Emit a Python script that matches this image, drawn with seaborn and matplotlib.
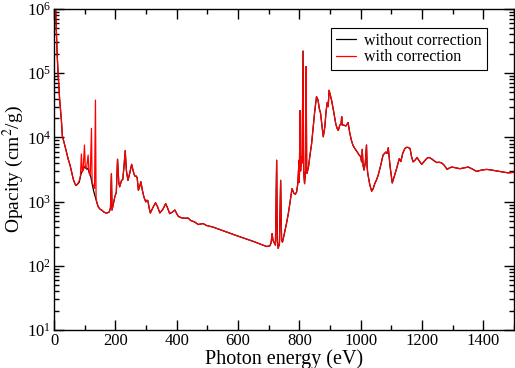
import numpy as np
import pandas as pd
import matplotlib
matplotlib.use("Agg")
import matplotlib.pyplot as plt
import seaborn as sns
from matplotlib.ticker import MultipleLocator, LogLocator

# %%
# photon energy (eV) and opacity (cm^2/g), with correction (red)
energia = [3, 5, 6.5, 8, 10, 13, 18, 24, 27, 35, 46, 52, 57, 63, 68, 71, 76, 82,
           86, 89, 92, 95, 99, 102, 106, 111, 114, 118, 122, 124, 128, 132, 135, 137, 140, 144,
           150, 155, 162, 169, 175, 180, 184, 187, 189, 193, 198, 203, 207, 211, 214, 220, 224,
           228, 232, 236, 241, 247, 253, 258, 263, 268, 271, 275, 279, 283, 288, 293, 299, 303,
           306, 310, 314, 322, 331, 338, 345, 355, 364, 370, 377, 385, 394, 400, 405, 415, 426,
           437, 445, 459, 470, 486, 497, 519, 560, 600, 650, 693, 704, 708, 711, 714, 717, 722,
           726, 728, 731, 735, 739, 742, 745, 750, 758, 764, 769, 776, 782, 787, 791, 795, 799,
           800, 802, 804, 806, 809, 812, 814, 817, 820, 822, 824, 825, 830, 834, 840, 845, 850,
           856, 861, 865, 869, 874, 878, 883, 887, 891, 894, 897, 901, 905, 912, 919, 924, 927,
           932, 936, 938, 940, 945, 952, 959, 964, 970, 975, 981, 988, 995, 1000, 1003, 1005,
           1008, 1011, 1015, 1019, 1021, 1023, 1030, 1036, 1041, 1046, 1052, 1057, 1065, 1073,
           1082, 1086, 1090, 1096, 1103, 1110, 1117, 1122, 1126, 1131, 1137, 1144, 1150, 1155,
           1161, 1166, 1171, 1177, 1184, 1191, 1199, 1205, 1212, 1218, 1224, 1232, 1240, 1248,
           1256, 1264, 1272, 1282, 1290, 1297, 1310, 1324, 1337, 1351, 1365, 1378, 1395, 1411,
           1427, 1443, 1462, 1481, 1500]
com_correcao = [2e6, 1e6, 6e5, 3.5e5, 2e5, 1e5, 4e4, 1.8e4, 1.05e4, 7500, 4600, 3700, 2900, 2200, 1900, 1780, 1850, 2100,
                2500, 5500, 2900, 3100, 7600, 3300, 3300, 5300, 2800, 2600, 13800, 2000, 1800, 1600, 38000, 1100, 950, 830,
                760, 740, 690, 665, 670, 690, 800, 2700, 740, 900, 1180, 1400, 4560, 2000, 1700, 2140, 2200,
                3500, 6200, 3000, 2140, 2800, 3800, 3000, 2500, 2500, 2350, 1500, 1700, 2040, 1500, 1180, 990, 1050,
                1030, 800, 665, 800, 960, 820, 665, 760, 930, 800, 650, 680, 740, 650, 590, 560, 550,
                555, 510, 480, 440, 455, 425, 400, 340, 290, 240, 200, 205, 230, 318, 250, 234, 210,
                4400, 250, 187, 220, 2140, 250, 234, 300, 455, 650, 930, 1590, 1350, 1300, 1410, 1900, 4400,
                2000, 26000, 3000, 5000, 4000, 220000, 3000, 1900, 3000, 126000, 3000, 2760, 3500, 5000, 8000, 14400, 25000,
                43000, 38000, 28000, 24000, 15000, 10200, 14400, 25000, 35000, 30000, 54000, 45000, 38000, 25000, 16000, 13500, 12800,
                15500, 16000, 21000, 15500, 15500, 15000, 17000, 12000, 8900, 7500, 6700, 6000, 5300, 5000, 4150, 6500,
                3600, 3100, 4000, 7600, 3500, 2760, 1800, 1450, 1600, 1900, 2200, 2570, 3600, 5300,
                5900, 5600, 6900, 3500, 1950, 2500, 3250, 4000, 4650, 4200, 5600, 6700, 7000, 6950,
                6700, 5000, 4150, 4400, 4850, 4300, 3800, 4100, 4500, 4800, 4850, 4600, 4300, 4050,
                4100, 4000, 3700, 3170, 3350, 3450, 3350, 3250, 3350, 3450, 3200, 2950, 3100, 3170,
                3100, 3000, 2900, 2800, 2850]

# without correction (black) differs only below ~145 eV
energia_sem = [3, 5, 6.5, 8, 10, 13, 18, 24, 27, 35, 46, 52, 57, 63, 68, 71, 76, 82,
               88, 95, 100, 106, 110, 115, 120, 125, 130, 135, 140, 144]
sem_correcao_baixo = [2e6, 1e6, 6e5, 3.5e5, 2e5, 1e5, 4e4, 1.8e4, 1.05e4, 7500, 4600, 3700, 2900, 2200, 1900, 1780, 1850, 2000,
                      2700, 3200, 3500, 3200, 3300, 2800, 2400, 1800, 1400, 1150, 950, 830]

# %%
df_com = pd.DataFrame({"Energia": energia, "Opacidade": com_correcao})
df_sem = pd.concat([
    pd.DataFrame({"Energia": energia_sem, "Opacidade": sem_correcao_baixo}),
    df_com[df_com["Energia"] > 144],
]).reset_index(drop=True)

# %%
sns.set_style("ticks")
plt.rcParams["font.family"] = ["Liberation Serif", "DejaVu Serif"]
plt.rcParams["mathtext.fontset"] = "stix"
for k in ["text.color", "axes.labelcolor", "xtick.color", "ytick.color", "axes.edgecolor"]:
    plt.rcParams[k] = "black"

fig = plt.figure(figsize=(5.15, 3.68), dpi=100)
ax = fig.add_axes([0.105, 0.103, 0.893, 0.873])

sns.lineplot(data=df_sem, x="Energia", y="Opacidade", color="black", lw=0.9,
             estimator=None, sort=False, label="without correction", ax=ax)
sns.lineplot(data=df_com, x="Energia", y="Opacidade", color="red", lw=0.9,
             estimator=None, sort=False, label="with correction", ax=ax)

ax.set_yscale("log")
ax.set_xlim(0, 1500)
ax.set_ylim(10, 1e6)
ax.xaxis.set_major_locator(MultipleLocator(200))
ax.xaxis.set_minor_locator(MultipleLocator(100))
ax.yaxis.set_major_locator(LogLocator(base=10, numticks=10))
ax.yaxis.set_minor_locator(LogLocator(base=10, subs=np.arange(2, 10), numticks=10))
ax.tick_params(which="both", direction="in", top=True, right=True, labelsize=12, width=1)
ax.tick_params(which="major", length=7, pad=2)
ax.tick_params(which="minor", length=3.5)
for s in ax.spines.values():
    s.set_linewidth(1)

ax.set_xlabel("Photon energy (eV)", fontsize=14.5, labelpad=0)
ax.set_ylabel("Opacity (cm$^2$/g)", fontsize=14, labelpad=0.5)

leg = ax.legend(loc="upper right", bbox_to_anchor=(0.941, 0.941), fontsize=11.5,
                fancybox=False, framealpha=1, edgecolor="black", handlelength=1.3,
                borderpad=0.3, labelspacing=0.05, handletextpad=0.5, borderaxespad=0)
leg.get_frame().set_linewidth(0.8)

plt.savefig("out.png", dpi=100)
